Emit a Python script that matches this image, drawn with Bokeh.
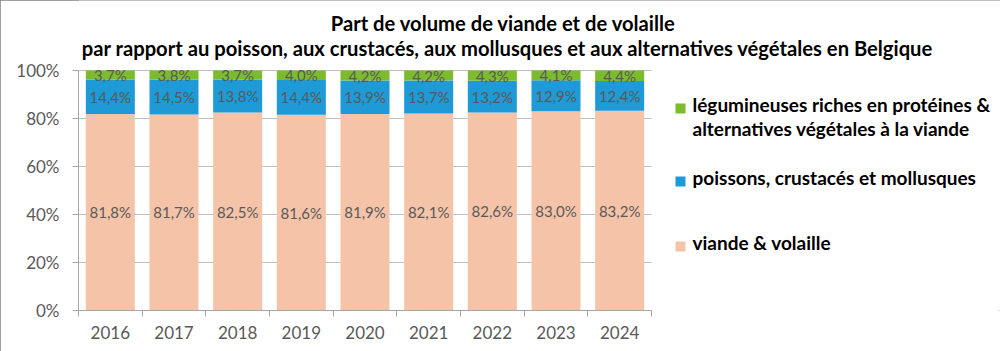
from bokeh.plotting import figure
from bokeh.models import Range1d, FixedTicker, Label, ColumnDataSource
from bokeh.core.properties import value
from bokeh.embed import file_html
from bokeh.resources import INLINE

years = ["2016", "2017", "2018", "2019", "2020", "2021", "2022", "2023", "2024"]
meat = [81.8, 81.7, 82.5, 81.6, 81.9, 82.1, 82.6, 83.0, 83.2]
fish = [14.4, 14.5, 13.8, 14.4, 13.9, 13.7, 13.2, 12.9, 12.4]
veg = [3.7, 3.8, 3.7, 4.0, 4.2, 4.2, 4.3, 4.1, 4.4]
legend_lines = [["légumineuses riches en protéines &", "alternatives végétales à la viande"],
                ["poissons, crustacés et mollusques"],
                ["viande & volaille"]]
colors = ["#F5C4A8", "#1E9AD6", "#7DBB2E"]
title1 = "Part de volume de viande et de volaille"
title2 = "par rapport au poisson, aux crustacés, aux mollusques et aux alternatives végétales en Belgique"
y_ticks = [0, 20, 40, 60, 80, 100]

n = len(years)
x = [i + 0.5 for i in range(n)]
tot = [m + f + v for m, f, v in zip(meat, fish, veg)]
m_n = [m / t * 100 for m, t in zip(meat, tot)]
f_n = [f / t * 100 for f, t in zip(fish, tot)]
v_n = [v / t * 100 for v, t in zip(veg, tot)]

fmt = lambda v: ("%.1f%%" % v).replace(".", ",")
src = ColumnDataSource(dict(
    x=x, meat=m_n, fish=f_n, veg=v_n,
    meat_y=[m / 2 for m in m_n],
    fish_y=[m + f / 2 for m, f in zip(m_n, f_n)],
    veg_y=[m + f + v / 2 for m, f, v in zip(m_n, f_n, v_n)],
    meat_l=[fmt(v) for v in meat], fish_l=[fmt(v) for v in fish], veg_l=[fmt(v) for v in veg],
))

W, H = 1000, 351
# plotting area (0..n, 0..100) occupies canvas px 78..651 x 310..70;
# the frame is extended to the right and top so that title and legend fit inside it.
PL, PR, PT, PB = 78, 651, 70, 310
sx = (PR - PL) / n
sy = (PB - PT) / 100.0
x_end = (W - PL) / sx
y_end = PB / sy

def dx(cx):
    return (cx - PL) / sx

def dy(cy):
    return (PB - cy) / sy

p = figure(width=W, height=H, output_backend="svg", toolbar_location=None,
           x_range=Range1d(0, x_end), y_range=Range1d(0, y_end),
           min_border_left=PL, min_border_right=0, min_border_top=0, min_border_bottom=H - PB)
p.outline_line_color = None
p.background_fill_color = "white"
p.styles = {"outline": "2px solid #808080", "outline-offset": "-2px"}

# horizontal grid lines limited to the plotting area
p.segment(x0=[0] * 5, x1=[n] * 5, y0=y_ticks[1:], y1=y_ticks[1:],
          line_color="#C0C0C0", line_width=1)

rs = p.vbar_stack(["meat", "fish", "veg"], x="x", width=0.77, source=src,
                  color=colors, line_color=None)

lab_font = value("Lato")
for col, ycol in [("meat_l", "meat_y"), ("fish_l", "fish_y"), ("veg_l", "veg_y")]:
    p.text(x="x", y=ycol, text=col, source=src, text_align="center", text_baseline="middle",
           text_font=lab_font, text_font_size="15px", text_color="#595959")

# axes
p.yaxis.bounds = (0, 100)
p.yaxis.ticker = FixedTicker(ticks=y_ticks)
p.yaxis.major_label_overrides = {t: f"{t}%" for t in y_ticks}
p.yaxis.minor_tick_line_color = None
p.yaxis.major_tick_in = 0
p.yaxis.major_tick_out = 6
p.yaxis.axis_line_color = "#A6A6A6"
p.yaxis.major_tick_line_color = "#A6A6A6"
p.yaxis.major_label_standoff = 13
p.yaxis.major_label_text_font = "Lato"
p.yaxis.major_label_text_font_size = "17px"
p.yaxis.major_label_text_color = "#595959"

p.xaxis.bounds = (0, n)
p.xaxis.ticker = FixedTicker(ticks=x, minor_ticks=list(range(n + 1)))
p.xaxis.major_label_overrides = {xx: y for xx, y in zip(x, years)}
p.xaxis.major_tick_line_color = None
p.xaxis.minor_tick_in = 0
p.xaxis.minor_tick_out = 6
p.xaxis.minor_tick_line_color = "#A6A6A6"
p.xaxis.axis_line_color = "#A6A6A6"
p.xaxis.major_label_standoff = 9
p.xaxis.major_label_text_font = "Lato"
p.xaxis.major_label_text_font_size = "17px"
p.xaxis.major_label_text_color = "#595959"

p.xgrid.grid_line_color = None
p.ygrid.grid_line_color = None

# title
tfont = "Lato"
for txt, cx, cy in [(title1, 503, 22), (title2, 507, 47)]:
    p.add_layout(Label(x=dx(cx), y=dy(cy), text=txt,
                       text_align="center", text_baseline="middle", text_font=tfont,
                       text_font_style="bold", text_font_size="20.2px", text_color="black"))

# legend (manual)
leg_colors = [colors[2], colors[1], colors[0]]
leg_y = [104, 177, 242]
p.scatter(x=[dx(680)] * 3, y=[dy(c + 4) for c in leg_y], marker="square", size=10,
          color=leg_colors, line_color=None)
for lines, cy in zip(legend_lines, leg_y):
    for k, line in enumerate(lines):
        p.add_layout(Label(x=dx(692), y=dy(cy + 24 * k), text=line,
                           text_align="left", text_baseline="middle", text_font=tfont,
                           text_font_style="bold", text_font_size="19px", text_color="black"))

open("out.html", "w").write(file_html(p, INLINE))
